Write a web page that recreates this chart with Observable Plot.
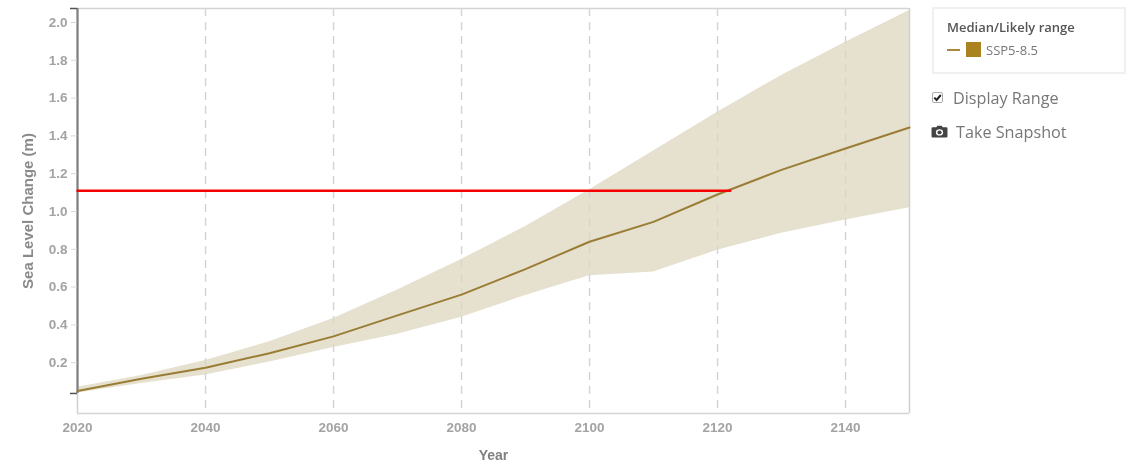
<!DOCTYPE html>
<html><head><meta charset="utf-8">
<script src="https://cdn.jsdelivr.net/npm/d3@7"></script>
<script src="https://cdn.jsdelivr.net/npm/@observablehq/plot@0.6"></script>
<style>
html,body{margin:0;padding:0;background:#fff;}
#wrap{position:relative;width:1136px;height:465px;overflow:hidden;font-family:"Open Sans",sans-serif;filter:blur(0.5px);}
#legend{position:absolute;left:932px;top:7px;width:190px;height:63px;border:2px solid #f0f0f0;box-sizing:content-box;}
#legend .t{position:absolute;left:13px;top:9px;font-size:13px;font-weight:600;color:#555;white-space:nowrap;}
#legend .l{position:absolute;left:13px;top:40px;width:13px;height:2px;background:#a8893a;}
#legend .s{position:absolute;left:32px;top:33px;width:15px;height:15px;background:#a8831f;}
#legend .n{position:absolute;left:52px;top:32px;font-size:13px;color:#777;white-space:nowrap;}
.opt{position:absolute;font-size:16.2px;color:#777;white-space:nowrap;}
.box{position:absolute;left:932px;top:92px;width:11px;height:11px;}
.cam{position:absolute;left:931px;top:125px;}
</style></head><body>
<div id="wrap">
<div id="chart"></div>
<div id="legend"><div class="t">Median/Likely range</div><div class="l"></div><div class="s"></div><div class="n">SSP5-8.5</div></div>
<svg class="box" viewBox="0 0 11 11"><rect x="0.5" y="0.5" width="10" height="10" rx="1.5" fill="#fff" stroke="#aaa"/><path d="M2.3 5.6 L4.6 8 L8.8 3" fill="none" stroke="#222" stroke-width="2"/></svg>
<div class="opt" style="left:953px;top:87px">Display Range</div>
<svg class="cam" width="17" height="13" viewBox="0 0 16 14" preserveAspectRatio="none"><path d="M1.5 2.5H5L6 .8H10L11 2.5H14.5A1 1 0 0 1 15.5 3.5V12.5A1 1 0 0 1 14.5 13.5H1.5A1 1 0 0 1 .5 12.5V3.5A1 1 0 0 1 1.5 2.5Z" fill="#444"/><circle cx="8" cy="8" r="3.4" fill="#fff"/><circle cx="8" cy="8" r="2" fill="#444"/></svg>
<div class="opt" style="left:956px;top:121px">Take Snapshot</div>
</div>
<script>
const years  = [2020,2030,2040,2050,2060,2070,2080,2090,2100,2110,2120,2130,2140,2150];
const median = [0.05,0.115,0.173,0.25,0.339,0.45,0.56,0.695,0.84,0.945,1.09,1.22,1.333,1.444];
const upper  = [0.07,0.132,0.212,0.31,0.434,0.585,0.746,0.92,1.115,1.32,1.525,1.72,1.896,2.063];
const lower  = [0.04,0.09,0.135,0.203,0.28,0.35,0.44,0.555,0.66,0.68,0.795,0.885,0.955,1.02];
const yTicks = [0.2,0.4,0.6,0.8,1.0,1.2,1.4,1.6,1.8,2.0];
const xTicks = [2020,2040,2060,2080,2100,2120,2140];
const gridYears = [2040,2060,2080,2100,2120,2140];
const threshold = 1.11;
const thresholdEnd = [2020,2122];
const yMin=-0.069, yMax=2.074, axisBottom=0.037;
const rows = years.map((year,i)=>({year,median:median[i],upper:upper[i],lower:lower[i]}));
const grey="#a3a3a3", font='"Liberation Sans",Arial,sans-serif';
const plot = Plot.plot({
  width:1136,height:465,marginLeft:77,marginRight:227,marginTop:8,marginBottom:52,
  style:{fontFamily:font,background:"#fff",overflow:"visible"},
  x:{domain:[2020,2150],label:null},
  y:{domain:[yMin,yMax],label:null},
  marks:[
    Plot.ruleX(gridYears,{stroke:"#dcdcdc",strokeWidth:1.3,strokeDasharray:"8,6"}),
    Plot.areaY(rows,{x:"year",y1:"lower",y2:"upper",fill:"#e6e0cf",fillOpacity:1}),
    Plot.ruleX(gridYears,{stroke:"#cfcfcf",strokeWidth:1.3,strokeDasharray:"8,6",strokeOpacity:0.6}),
    Plot.ruleY([yMin,yMax],{stroke:"#d4d4d4",strokeWidth:1.5}),
    Plot.ruleX([2020,2150],{stroke:"#d0d0d0",strokeWidth:1.5}),
    Plot.ruleX([2020],{y1:axisBottom,y2:yMax,stroke:"#808080",strokeWidth:2.2}),
    Plot.lineY(rows,{x:"year",y:"median",stroke:"#9a7d35",strokeWidth:2}),
    Plot.line(thresholdEnd.map(x=>({x,y:threshold})),{x:"x",y:"y",stroke:"#f60000",strokeWidth:2.4}),
    Plot.axisY(yTicks,{anchor:"left",tickSize:6,stroke:"#d8d8d8",tickPadding:4,tickFormat:d3.format(".1f"),fill:grey,fontSize:13.5,fontWeight:"bold",label:null}),
    Plot.axisY([axisBottom,yMax],{anchor:"left",tickSize:7,stroke:"#555",strokeWidth:1.5,tickFormat:null,text:null,label:null}),
    Plot.axisX(xTicks,{anchor:"bottom",tickSize:0,tickPadding:9,tickFormat:d=>String(d),fill:grey,fontSize:13.5,fontWeight:"bold",label:null}),
    Plot.text(["Year"],{x:()=>2085,frameAnchor:"bottom",dy:46,fill:"#808080",fontSize:14,fontWeight:"bold"}),
    Plot.text(["Sea Level Change (m)"],{frameAnchor:"left",dx:-49,rotate:-90,fill:"#8a8a8a",fontSize:15,fontWeight:"bold",textAnchor:"middle"})
  ]
});
document.getElementById("chart").appendChild(plot);
</script>
</body></html>
